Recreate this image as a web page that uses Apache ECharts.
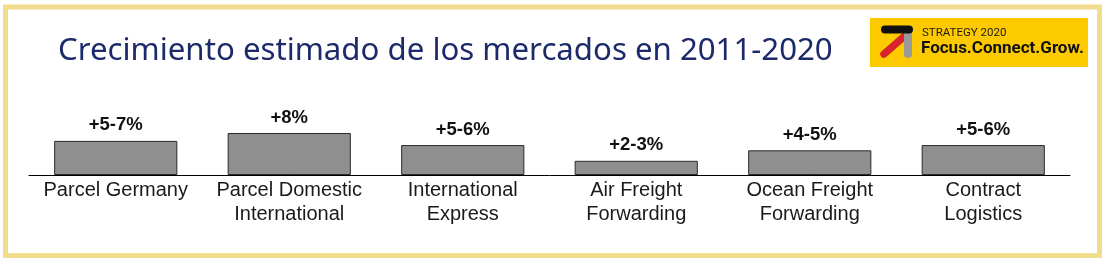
<!DOCTYPE html>
<html>
<head>
<meta charset="utf-8">
<style>
html,body{margin:0;padding:0;background:#fff;}
#chart{width:1108px;height:266px;}
</style>
<script src="https://cdn.jsdelivr.net/npm/echarts@6/dist/echarts.min.js"></script>
</head>
<body>
<div id="chart"></div>
<script>
const categories = ['Parcel Germany', 'Parcel Domestic\nInternational', 'International\nExpress', 'Air Freight\nForwarding', 'Ocean Freight\nForwarding', 'Contract\nLogistics'];
const values = [6.5, 8, 5.7, 2.7, 4.7, 5.7];
const valueLabels = ['+5-7%', '+8%', '+5-6%', '+2-3%', '+4-5%', '+5-6%'];
const titleText = 'Crecimiento estimado de los mercados en 2011-2020';
const logoSmall = 'STRATEGY 2020';
const logoBig = 'Focus.Connect.Grow.';

const chart = echarts.init(document.getElementById('chart'), null, {renderer: 'canvas'});
chart.setOption({
  animation: false,
  backgroundColor: '#ffffff',
  title: {
    text: titleText,
    left: 53,
    top: 31,
    textStyle: {fontFamily: 'Noto Sans', fontSize: 31.2, fontWeight: 'normal', color: '#1c2a6a'}
  },
  grid: {left: 29, right: 38, top: 122.5, bottom: 91, containLabel: false},
  xAxis: {
    type: 'category',
    data: categories,
    axisLine: {lineStyle: {color: '#000', width: 1}},
    axisTick: {show: false},
    axisLabel: {
      interval: 0, margin: 3, color: '#1a1a1a',
      fontFamily: 'Liberation Sans', fontSize: 20, lineHeight: 24
    }
  },
  yAxis: {
    type: 'value', min: 0, max: 10,
    show: false, splitLine: {show: false}
  },
  series: [{
    type: 'bar',
    data: values,
    barWidth: '71%',
    itemStyle: {color: '#8f8f8f', borderColor: '#2a2a2a', borderWidth: 1},
    label: {
      show: true, position: 'top', distance: 6,
      formatter: p => valueLabels[p.dataIndex],
      fontFamily: 'Liberation Sans', fontWeight: 'bold', fontSize: 18.5, color: '#111'
    }
  }],
  graphic: [
    {type: 'rect', shape: {x: 5.5, y: 7, width: 1094, height: 248.5},
     style: {fill: null, stroke: '#f2dc8e', lineWidth: 5}},
    {type: 'rect', shape: {x: 870, y: 18, width: 218, height: 49},
     style: {fill: '#fdca00'}},
    {type: 'line', shape: {x1: 907, y1: 34, x2: 884, y2: 54},
     style: {stroke: '#d9232e', lineWidth: 7.5, lineCap: 'round'}},
    {type: 'line', shape: {x1: 908, y1: 33, x2: 908, y2: 54},
     style: {stroke: '#9a9a9a', lineWidth: 8, lineCap: 'round'}},
    {type: 'line', shape: {x1: 885, y1: 29.5, x2: 909, y2: 29.5},
     style: {stroke: '#111', lineWidth: 8, lineCap: 'round'}},
    {type: 'text', x: 922, y: 27,
     style: {text: logoSmall, fontFamily: 'Roboto', fontSize: 11.5, fill: '#1a1a1a'}},
    {type: 'text', x: 921, y: 40,
     style: {text: logoBig, fontFamily: 'Roboto', fontWeight: 'bold', fontSize: 17, fill: '#111'}}
  ]
});
</script>
</body>
</html>
